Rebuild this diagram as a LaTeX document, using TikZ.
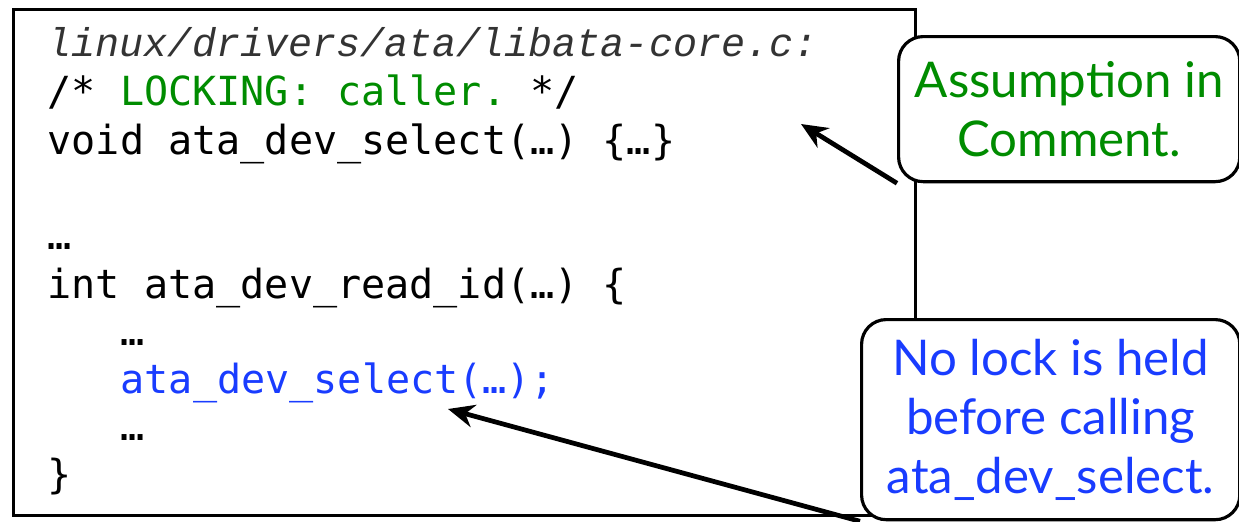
\documentclass[tikz,border=0pt]{standalone}
\usepackage{fontspec}
\setmainfont{Lato}
\setmonofont{DejaVu Sans Mono}
\newfontfamily\pathfont{Liberation Mono}
\usetikzlibrary{arrows.meta, positioning}

\definecolor{lockgreen}{RGB}{0,140,0}
\definecolor{callblue}{RGB}{25,60,255}

\begin{document}
\begin{tikzpicture}[x=0.01cm, y=-0.01cm]
    \tikzstyle{codebox} = [rectangle, draw=black, line width=0.9pt, anchor=north west,
                           minimum width=9.01cm, minimum height=5.06cm, inner sep=0pt]
    \tikzstyle{codeline} = [anchor=base west, inner sep=0pt,
                            font=\fontsize{11.4}{13.6}\selectfont\ttfamily]
    \tikzstyle{callout} = [rectangle, rounded corners=7pt, draw=black, line width=0.9pt,
                           fill=white, align=center, anchor=north west, inner sep=0pt,
                           font=\fontsize{14}{16.8}\selectfont]
    \tikzstyle{arr} = [-{Stealth[length=7.5pt, width=6.5pt]}, line width=1.35pt]

    \useasboundingbox (0,0) rectangle (1239,521);

    % the source excerpt
    \node (code) [codebox] at (12,8) {};
    \node (path)   [codeline, font=\fontsize{11.4}{13.6}\selectfont\pathfont\itshape, black!80]
                   at (47,57)  {linux/drivers/ata/libata-core.c:};
    \node (lock)   [codeline] at (47,105)  {/* \textcolor{lockgreen}{LOCKING: caller.} */};
    \node (select) [codeline] at (47,154)  {void ata\_dev\_select(…) \{…\}};
    \node (dots)   [codeline] at (47,249)  {…};
    \node (readid) [codeline] at (47,298)  {int ata\_dev\_read\_id(…) \{};
    \node (dotsa)  [codeline] at (120,345) {…};
    \node (call)   [codeline, callblue] at (120,393) {ata\_dev\_select(…);};
    \node (dotsb)  [codeline] at (120,440) {…};
    \node (close)  [codeline] at (47,488)  {\}};

    % the two remarks
    \node (assume) [callout, text=lockgreen, minimum width=3.41cm, minimum height=1.45cm]
                   at (897,35) {Assumption in\\Comment.};
    \node (nolock) [callout, text=callblue, minimum width=3.78cm, minimum height=2.0cm]
                   at (860,318) {No lock is held\\before calling\\ata\_dev\_select.};

    \coordinate (defn) at (801,124);
    \coordinate (site) at (448,409);
    \draw[arr] (assume.south west) -- (defn);
    \draw[arr] (nolock.south west) -- (site);
\end{tikzpicture}
\end{document}
